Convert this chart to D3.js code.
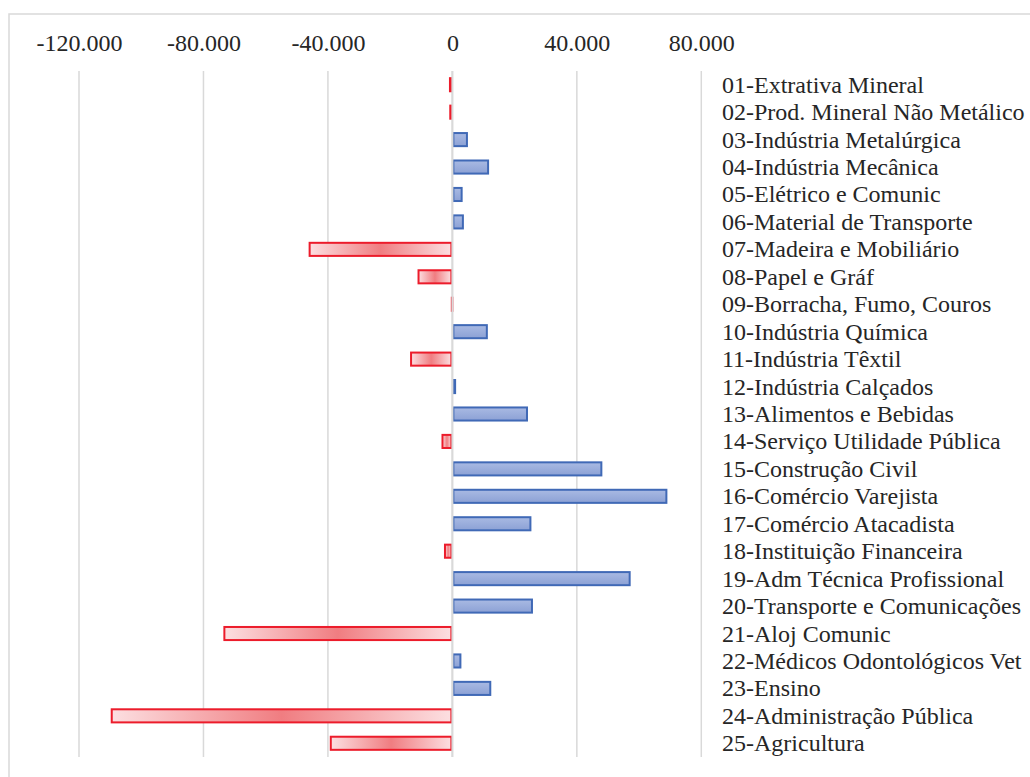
<!DOCTYPE html>
<html>
<head>
<meta charset="utf-8">
<script src="https://cdn.jsdelivr.net/npm/d3@7/dist/d3.min.js"></script>
<style>
  html, body { margin: 0; padding: 0; background: #fff; }
  svg { display: block; }
  svg text { font-family: 'Liberation Serif', 'DejaVu Serif', serif !important; fill: #262626; }
</style>
</head>
<body>
<svg id="chart" width="1030" height="777"></svg>
<script>
// Saldo de empregos por setor
const categories = [
  "01-Extrativa Mineral",
  "02-Prod. Mineral Não Metálico",
  "03-Indústria Metalúrgica",
  "04-Indústria Mecânica",
  "05-Elétrico e Comunic",
  "06-Material de Transporte",
  "07-Madeira e Mobiliário",
  "08-Papel e Gráf",
  "09-Borracha, Fumo, Couros",
  "10-Indústria Química",
  "11-Indústria Têxtil",
  "12-Indústria Calçados",
  "13-Alimentos e Bebidas",
  "14-Serviço Utilidade Pública",
  "15-Construção Civil",
  "16-Comércio Varejista",
  "17-Comércio Atacadista",
  "18-Instituição Financeira",
  "19-Adm Técnica Profissional",
  "20-Transporte e Comunicações",
  "21-Aloj Comunic",
  "22-Médicos Odontológicos Vet",
  "23-Ensino",
  "24-Administração Pública",
  "25-Agricultura"
];

const values = [
  -1100, -1000, 5000, 11800, 3300, 3700, -46200, -11200, -500, 11400,
  -13600, 1200, 24300, -3500, 48200, 69100, 25400, -2700, 57300, 25900,
  -73600, 2900, 12500, -109800, -39400
];

const tickValues = [-120000, -80000, -40000, 0, 40000, 80000];
const tickLabels = ["-120.000", "-80.000", "-40.000", "0", "40.000", "80.000"];

const FONT = "'Liberation Serif', 'DejaVu Serif', serif";
const svg = d3.select("#chart");

// chart area frame
svg.append("rect")
  .attr("x", 9).attr("y", 14)
  .attr("width", 1040).attr("height", 800)
  .attr("fill", "#fff")
  .attr("stroke", "#d9d9d9").attr("stroke-width", 1.5);

const x = d3.scaleLinear().domain([-120000, 80000]).range([79, 701.3]);
const y = d3.scaleBand().domain(categories).range([71, 757])
  .paddingInner(0.45).paddingOuter(0.225);

// gradients
const defs = svg.append("defs");
const neg = defs.append("linearGradient").attr("id", "negFill")
  .attr("x1", "0").attr("x2", "1").attr("y1", "0").attr("y2", "0");
neg.append("stop").attr("offset", "0").attr("stop-color", "#fcdfe1");
neg.append("stop").attr("offset", "0.5").attr("stop-color", "#f07d81");
neg.append("stop").attr("offset", "1").attr("stop-color", "#fcdfe1");

const pos = defs.append("linearGradient").attr("id", "posFill")
  .attr("x1", "0").attr("x2", "0").attr("y1", "0").attr("y2", "1");
pos.append("stop").attr("offset", "0").attr("stop-color", "#a9bae3");
pos.append("stop").attr("offset", "1").attr("stop-color", "#8ca1d5");

// vertical gridlines
svg.append("g").selectAll("line")
  .data(tickValues)
  .join("line")
  .attr("x1", d => x(d)).attr("x2", d => x(d))
  .attr("y1", 71).attr("y2", 757)
  .attr("stroke", "#d9d9d9").attr("stroke-width", 1.5);

// top axis tick labels
const axis = d3.axisTop(x)
  .tickValues(tickValues)
  .tickFormat((d, i) => tickLabels[i])
  .tickSize(0).tickPadding(0);
const gAxis = svg.append("g")
  .attr("transform", "translate(0,51)")
  .call(axis)
  .attr("font-family", FONT)
  .attr("font-size", 24);
gAxis.select(".domain").remove();
gAxis.selectAll("text")
  .style("font-family", FONT)
  .style("font-size", "24px")
  .attr("fill", "#262626")
  .attr("dy", 0);

// bars
svg.append("g").selectAll("rect")
  .data(values)
  .join("rect")
  .attr("x", d => Math.min(x(0), x(d)) + 1)
  .attr("y", (d, i) => y(categories[i]) + 1)
  .attr("width", d => Math.max(0.5, Math.abs(x(d) - x(0)) - 2))
  .attr("height", y.bandwidth() - 2)
  .attr("fill", d => d < 0 ? "url(#negFill)" : "url(#posFill)")
  .attr("stroke", d => d < 0 ? "#ec1c2b" : "#4069b6")
  .attr("stroke-width", 2);

// zero line over bars
svg.append("line")
  .attr("x1", x(0)).attr("x2", x(0))
  .attr("y1", 71).attr("y2", 757)
  .attr("stroke", "#d9d9d9").attr("stroke-width", 2);

// category labels
svg.append("g").selectAll("text")
  .data(categories)
  .join("text")
  .attr("x", 722)
  .attr("y", d => y(d) + y.bandwidth() / 2 + 8)
  .style("font-family", FONT)
  .style("font-size", "24px")
  .text(d => d);
</script>
</body>
</html>
